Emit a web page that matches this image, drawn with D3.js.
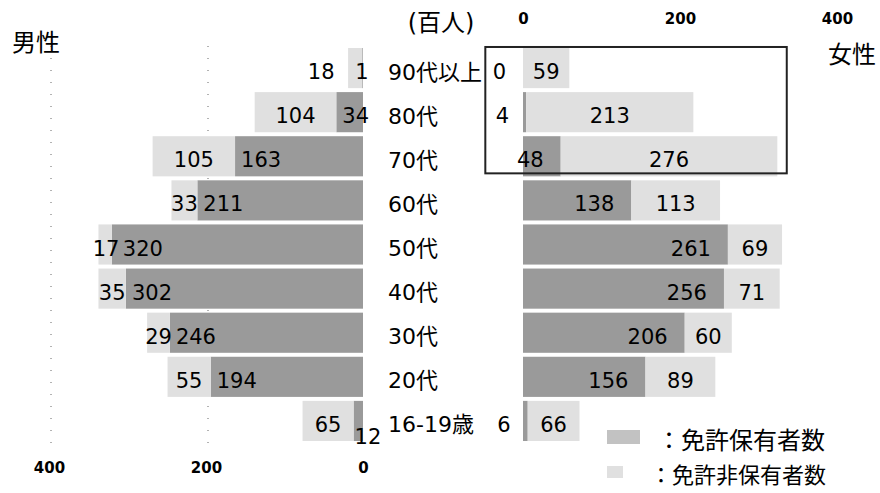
<!DOCTYPE html>
<html>
<head>
<meta charset="utf-8">
<script src="https://cdn.jsdelivr.net/npm/d3@7"></script>
<style>
  html, body { margin: 0; padding: 0; background: #fff; }
  svg text { font-family: 'DejaVu Sans', 'Noto Sans CJK JP', sans-serif; fill: #000; }
  .jp { font-family: 'Noto Sans CJK JP', sans-serif; }
</style>
</head>
<body>
<svg id="chart" width="880" height="493"></svg>
<script>
const AGES = ['90代以上', '80代', '70代', '60代', '50代', '40代', '30代', '20代', '16-19歳']
const MALE_HOLDERS = [1, 34, 163, 211, 320, 302, 246, 194, 12]
const MALE_NON_HOLDERS = [18, 104, 105, 33, 17, 35, 29, 55, 65]
const FEMALE_HOLDERS = [0, 4, 48, 138, 261, 256, 206, 156, 6]
const FEMALE_NON_HOLDERS = [59, 213, 276, 113, 69, 71, 60, 89, 66]
const TICKS = [0, 200, 400]
const LEGEND = ['：免許保有者数', '：免許非保有者数']

const HOLDER_COLOR = '#9a9a9a'
const NON_HOLDER_COLOR = '#e0e0e0'

// labels that were moved by hand in the original
const NUDGE = {
    'm-n-0': [-34, 0],
    'm-h-0': [-13, 0],
    'm-h-4': [5, 0],
    'm-n-4': [1, 0],
    'm-h-8': [-5, 12]
}

const svg = d3.select('#chart')

const y = d3.scaleBand().domain(AGES).range([46, 443]).paddingInner(0.09).paddingOuter(0.045)
const xM = d3.scaleLinear().domain([0, 400]).range([363, 49])
const xF = d3.scaleLinear().domain([0, 400]).range([523, 837])

const rows = AGES.map((age, i) => ({
    i, age,
    mh: MALE_HOLDERS[i], mn: MALE_NON_HOLDERS[i],
    fh: FEMALE_HOLDERS[i], fn: FEMALE_NON_HOLDERS[i]
}))

// sparse dotted grid on the male side
svg.append('g').selectAll('line')
    .data(TICKS.filter((t) => t > 0))
    .enter().append('line')
    .attr('x1', (d) => xM(d) + 2).attr('x2', (d) => xM(d) + 2)
    .attr('y1', y.range()[0]).attr('y2', y.range()[1])
    .attr('stroke', '#666').attr('stroke-width', 1)
    .attr('stroke-dasharray', '1 11')

const bars = svg.append('g')

// male: holders next to the centre, non-holders outside
bars.selectAll('.mh').data(rows).enter().append('rect')
    .attr('x', (d) => xM(d.mh)).attr('y', (d) => y(d.age))
    .attr('width', (d) => xM(0) - xM(d.mh)).attr('height', y.bandwidth())
    .attr('fill', HOLDER_COLOR)
bars.selectAll('.mn').data(rows).enter().append('rect')
    .attr('x', (d) => xM(d.mh + d.mn)).attr('y', (d) => y(d.age))
    .attr('width', (d) => xM(d.mh) - xM(d.mh + d.mn)).attr('height', y.bandwidth())
    .attr('fill', NON_HOLDER_COLOR)

// female
bars.selectAll('.fh').data(rows).enter().append('rect')
    .attr('x', xF(0)).attr('y', (d) => y(d.age))
    .attr('width', (d) => xF(d.fh) - xF(0)).attr('height', y.bandwidth())
    .attr('fill', HOLDER_COLOR)
bars.selectAll('.fn').data(rows).enter().append('rect')
    .attr('x', (d) => xF(d.fh)).attr('y', (d) => y(d.age))
    .attr('width', (d) => xF(d.fh + d.fn) - xF(d.fh)).attr('height', y.bandwidth())
    .attr('fill', NON_HOLDER_COLOR)

const cy = (d) => y(d.age) + y.bandwidth() / 2 + 4
const nudge = (key, k) => (NUDGE[key] || [0, 0])[k]

const labels = svg.append('g').attr('font-size', 21).attr('dominant-baseline', 'central')

labels.selectAll('.lmh').data(rows).enter().append('text')
    .attr('x', (d) => xM(d.mh) + 6 + nudge('m-h-' + d.i, 0))
    .attr('y', (d) => cy(d) + nudge('m-h-' + d.i, 1))
    .attr('text-anchor', 'start')
    .text((d) => d.mh)
labels.selectAll('.lmn').data(rows).enter().append('text')
    .attr('x', (d) => (xM(d.mh) + xM(d.mh + d.mn)) / 2 + nudge('m-n-' + d.i, 0))
    .attr('y', (d) => cy(d) + nudge('m-n-' + d.i, 1))
    .attr('text-anchor', 'middle')
    .text((d) => d.mn)
labels.selectAll('.lfh').data(rows).enter().append('text')
    .attr('x', (d) => xF(d.fh) - 17)
    .attr('y', cy)
    .attr('text-anchor', 'end')
    .text((d) => d.fh)
labels.selectAll('.lfn').data(rows).enter().append('text')
    .attr('x', (d) => (xF(d.fh) + xF(d.fh + d.fn)) / 2)
    .attr('y', cy)
    .attr('text-anchor', 'middle')
    .text((d) => d.fn)

// age categories in the middle
svg.append('g').selectAll('text').data(rows).enter().append('text')
    .attr('x', 388).attr('y', cy)
    .attr('font-size', 22).attr('dominant-baseline', 'central')
    .text((d) => d.age)

// axes: female on top, male at the bottom
const axisTop = svg.append('g').attr('transform', 'translate(0,19)')
    .call(d3.axisTop(xF).tickValues(TICKS).tickSize(0))
const axisBottom = svg.append('g').attr('transform', 'translate(0,468)')
    .call(d3.axisBottom(xM).tickValues(TICKS).tickSize(0))
for (const g of [axisTop, axisBottom]) {
    g.select('.domain').remove()
    g.selectAll('text')
        .attr('y', 0).attr('dy', '0.35em')
        .attr('font-size', 15).attr('font-weight', 'bold')
        .attr('font-family', null)
}

// highlight box around the older women
svg.append('rect')
    .attr('x', xF(-48)).attr('y', y(AGES[0]) - 1)
    .attr('width', xF(336) - xF(-48))
    .attr('height', y(AGES[2]) + y.bandwidth() - y(AGES[0]) - 2)
    .attr('fill', 'none').attr('stroke', '#222').attr('stroke-width', 2)

// titles
svg.append('text').attr('x', 441).attr('y', 23).attr('font-size', 24)
    .attr('text-anchor', 'middle').attr('dominant-baseline', 'central').text('(百人)')
svg.append('text').attr('class', 'jp').attr('x', 12).attr('y', 40).attr('font-size', 24)
    .attr('dominant-baseline', 'central').text('男性')
svg.append('text').attr('class', 'jp').attr('x', 828).attr('y', 52).attr('font-size', 24)
    .attr('dominant-baseline', 'central').text('女性')

// legend
const legend = svg.append('g')
legend.append('rect').attr('x', 607).attr('y', 430).attr('width', 33).attr('height', 14)
    .attr('fill', HOLDER_COLOR).attr('opacity', 0.6)
legend.append('rect').attr('x', 607).attr('y', 466).attr('width', 16).attr('height', 12)
    .attr('fill', NON_HOLDER_COLOR)
legend.append('text').attr('class', 'jp').attr('x', 657).attr('y', 438).attr('font-size', 24)
    .attr('dominant-baseline', 'central').text(LEGEND[0])
legend.append('text').attr('class', 'jp').attr('x', 650).attr('y', 473).attr('font-size', 22)
    .attr('dominant-baseline', 'central').text(LEGEND[1])
</script>
</body>
</html>
